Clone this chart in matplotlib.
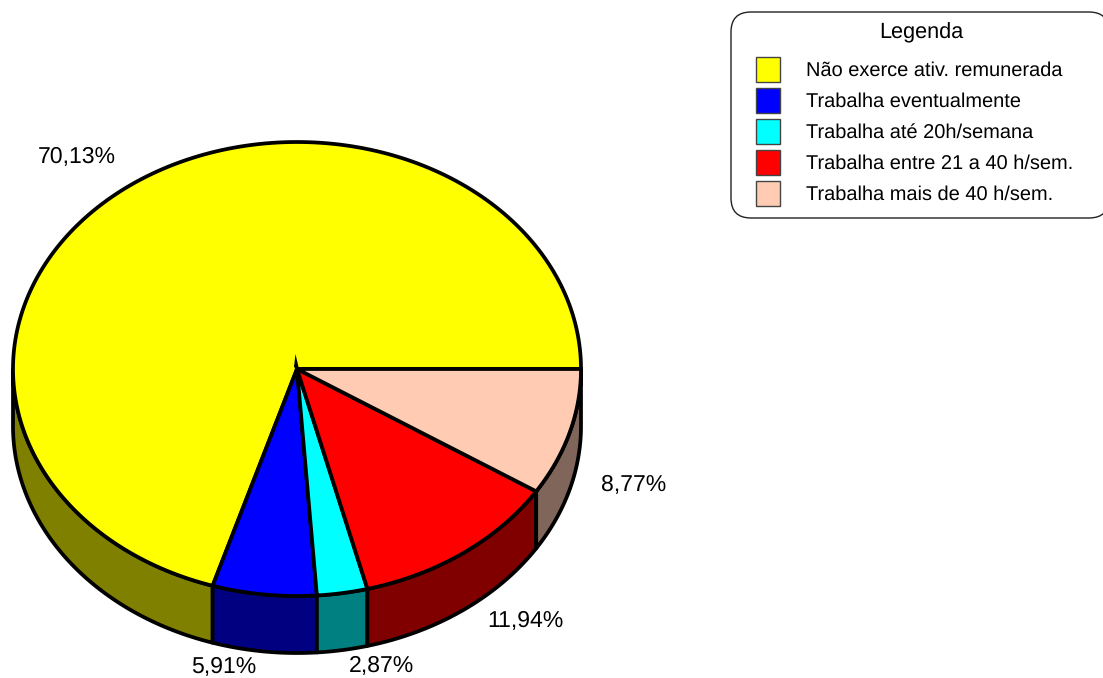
import numpy as np
import matplotlib
matplotlib.use("Agg")
import matplotlib.pyplot as plt
from matplotlib.patches import Polygon, Rectangle, FancyBboxPatch

plt.rcParams['font.family'] = ['Liberation Sans', 'DejaVu Sans']
plt.rcParams['text.hinting'] = 'no_hinting'

categories = ["Não exerce ativ. remunerada", "Trabalha eventualmente", "Trabalha até 20h/semana",
              "Trabalha entre 21 a 40 h/sem.", "Trabalha mais de 40 h/sem."]
values = [70.13, 5.91, 2.87, 11.94, 8.77]
labels = ["70,13%", "5,91%", "2,87%", "11,94%", "8,77%"]
top_colors = ["#FFFF00", "#0000FF", "#00FFFF", "#FF0000", "#FFCCB3"]
side_colors = ["#808000", "#000080", "#008080", "#800000", "#80665A"]
label_pos = [(77, 157), (224, 667), (381, 666), (525, 621), (634, 485)]

cx, cy = 297, 369
rx, ry = 284, 227
depth = 57
lw = 2.7

fig = plt.figure(figsize=(11.03, 6.78), dpi=100)
ax = fig.add_axes([0, 0, 1, 1])
ax.set_xlim(0, 1103)
ax.set_ylim(678, 0)
ax.axis("off")


def rim(a, b):
    t = np.radians(np.linspace(a, b, 200))
    return np.column_stack([cx + rx*np.cos(t), cy - ry*np.sin(t)])


# printed percentages do not quite reach 100, last slice closes the circle
edges = 3.6*1.001*np.concatenate([[0], np.cumsum(values)])
edges[-1] = 360

# side walls first, only the front half shows
for i in range(len(values)):
    a = max(edges[i], 180)
    b = edges[i+1]
    if b <= a:
        continue
    pts = rim(a, b)
    wall = np.vstack([pts, (pts + [0, depth])[::-1]])
    ax.add_patch(Polygon(wall, closed=True, fc=side_colors[i], ec="black", lw=lw, joinstyle="round"))

# top slices
for i in range(len(values)):
    pts = np.vstack([[cx, cy], rim(edges[i], edges[i+1])])
    ax.add_patch(Polygon(pts, closed=True, fc=top_colors[i], ec="black", lw=lw, joinstyle="miter"))

# little spike the thin slice's corner leaves at the centre
ax.add_patch(Polygon([[cx-3, cy-2], [cx-1.5, cy-15], [cx+1.5, cy-2]], closed=True, fc="black", ec="none"))

for txt, pos in zip(labels, label_pos):
    ax.text(pos[0], pos[1], txt, fontsize=16.6, ha="center", va="center")

# legend, right side runs off the figure
ax.add_patch(FancyBboxPatch((731, 12), 378, 206, boxstyle="round,pad=0,rounding_size=20",
                            fc="white", ec="#222222", lw=1))
ax.text(921.5, 33, "Legenda", fontsize=15.6, ha="center", va="center")
for i, name in enumerate(categories):
    y = 69.5 + i*31
    ax.add_patch(Rectangle((756, y-12.5), 24, 25, fc=top_colors[i], ec="#444444", lw=1))
    ax.text(806, y+1.5, name, fontsize=14.4, ha="left", va="center")

fig.savefig("out.png", dpi=100)
